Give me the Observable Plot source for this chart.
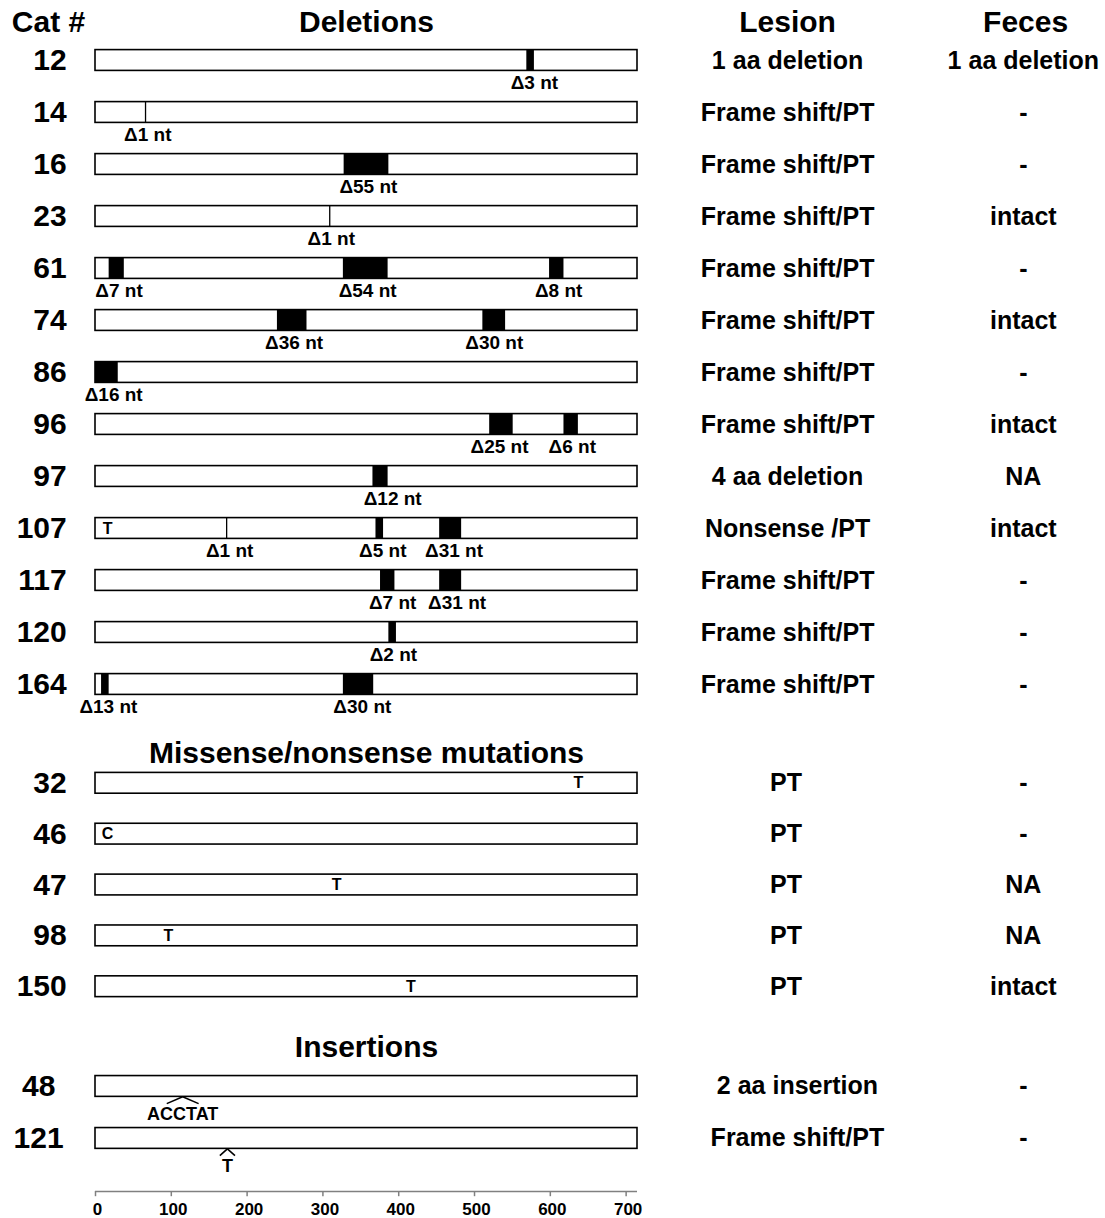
<!DOCTYPE html>
<html><head><meta charset="utf-8">
<script src="https://cdn.jsdelivr.net/npm/d3@7"></script>
<script src="https://cdn.jsdelivr.net/npm/@observablehq/plot@0.6"></script>
<style>body{margin:0;background:#fff}#chart svg{display:block}</style>
</head><body><div id="chart"></div>
<script>
// ---------- data ----------
const GENE_LENGTH = 715;
const axisTicks = [0, 100, 200, 300, 400, 500, 600, 700];
const headers = ["Cat #", "Deletions", "Lesion", "Feces"];
const sectionTitles = ["Missense/nonsense mutations", "Insertions"];

const deletionCats   = ["12","14","16","23","61","74","86","96","97","107","117","120","164"];
const deletionLesion = ["1 aa deletion","Frame shift/PT","Frame shift/PT","Frame shift/PT","Frame shift/PT","Frame shift/PT","Frame shift/PT","Frame shift/PT","4 aa deletion","Nonsense /PT","Frame shift/PT","Frame shift/PT","Frame shift/PT"];
const deletionFeces  = ["1 aa deletion","-","-","intact","-","intact","-","intact","NA","intact","-","-","-"];

const missenseCats   = ["32","46","47","98","150"];
const missenseLesion = ["PT","PT","PT","PT","PT"];
const missenseFeces  = ["-","-","NA","NA","intact"];

const insertionCats   = ["48","121"];
const insertionLesion = ["2 aa insertion","Frame shift/PT"];
const insertionFeces  = ["-","-"];

// deleted stretches: start/end position along the gene, label and where it sits
const deletions = [
  {cat:"12",  start:569, end:579, label:"Δ3 nt",  labelAt:579},
  {cat:"14",  start:66,  end:66,  label:"Δ1 nt",  labelAt:69},
  {cat:"16",  start:328, end:387, label:"Δ55 nt", labelAt:360},
  {cat:"23",  start:309, end:309, label:"Δ1 nt",  labelAt:311},
  {cat:"61",  start:18,  end:38,  label:"Δ7 nt",  labelAt:31},
  {cat:"61",  start:327, end:386, label:"Δ54 nt", labelAt:359},
  {cat:"61",  start:599, end:618, label:"Δ8 nt",  labelAt:611},
  {cat:"74",  start:240, end:279, label:"Δ36 nt", labelAt:262},
  {cat:"74",  start:511, end:541, label:"Δ30 nt", labelAt:526},
  {cat:"86",  start:0,   end:30,  label:"Δ16 nt", labelAt:24},
  {cat:"96",  start:520, end:551, label:"Δ25 nt", labelAt:533},
  {cat:"96",  start:618, end:637, label:"Δ6 nt",  labelAt:629},
  {cat:"97",  start:366, end:386, label:"Δ12 nt", labelAt:392},
  {cat:"107", start:173, end:173, label:"Δ1 nt",  labelAt:177},
  {cat:"107", start:370, end:380, label:"Δ5 nt",  labelAt:379},
  {cat:"107", start:454, end:483, label:"Δ31 nt", labelAt:473},
  {cat:"117", start:376, end:395, label:"Δ7 nt",  labelAt:392},
  {cat:"117", start:454, end:483, label:"Δ31 nt", labelAt:477},
  {cat:"120", start:387, end:397, label:"Δ2 nt",  labelAt:393},
  {cat:"164", start:8,   end:18,  label:"Δ13 nt", labelAt:17},
  {cat:"164", start:327, end:367, label:"Δ30 nt", labelAt:352}
];

// point substitutions (base shown inside the bar)
const substitutions = [
  {cat:"107", pos:16,  base:"T"},
  {cat:"32",  pos:637, base:"T"},
  {cat:"46",  pos:16,  base:"C"},
  {cat:"47",  pos:318, base:"T"},
  {cat:"98",  pos:96,  base:"T"},
  {cat:"150", pos:416, base:"T"}
];

// insertions (caret under the bar, inserted bases below)
const insertions = [
  {cat:"48",  pos:115, seq:"ACCTAT", spread:21},
  {cat:"121", pos:174, seq:"T",      spread:10}
];

// ---------- layout (row slots; 1 slot = one row spacing) ----------
const HEADER_SLOT = 0.27;
const sections = [
  {cats:deletionCats,  lesion:deletionLesion,  feces:deletionFeces,  first:1.0,   step:1.0,   title:null,             catX:-38, catAnchor:"end",    lesionX:913},
  {cats:missenseCats,  lesion:missenseLesion,  feces:missenseFeces,  first:14.90, step:0.978, title:sectionTitles[0], titleSlot:14.33, catX:-38, catAnchor:"end", lesionX:911},
  {cats:insertionCats, lesion:insertionLesion, feces:insertionFeces, first:20.73, step:1.0,   title:sectionTitles[1], titleSlot:19.98, catX:-75, catAnchor:"middle", lesionX:926}
];
const AXIS_SLOT = 22.75;
const BAR_HALF = 0.2;
const LABEL_OFFSET = 0.43;
const FECES_X = 1224;
const headerX = [-62, GENE_LENGTH / 2, 913, 1227];

const rows = sections.flatMap(s => s.cats.map((cat, i) => ({
  cat, lesion: s.lesion[i], feces: s.feces[i], slot: s.first + i * s.step,
  catX: s.catX, catAnchor: s.catAnchor, lesionX: s.lesionX
})));
const slotOf = new Map(rows.map(r => [r.cat, r.slot]));
const titles = sections.filter(s => s.title).map(s => ({text: s.title, slot: s.titleSlot}));

const FONT = "Liberation Sans, Arial, Helvetica, sans-serif";

const chart = Plot.plot({
  width: 1105,
  height: 1218,
  margin: 0,
  style: {fontFamily: FONT, fontWeight: "bold", background: "#fff", color: "#000"},
  x: {domain: [0, GENE_LENGTH], range: [95, 637], axis: null},
  y: {domain: [0, 23], range: [8, 8 + 23 * 52], axis: null},
  marks: [
    // gene bars
    Plot.rect(rows, {x1: () => 0, x2: () => GENE_LENGTH, y1: d => d.slot - BAR_HALF, y2: d => d.slot + BAR_HALF,
      fill: "white", stroke: "black", strokeWidth: 1.6}),
    // deleted stretches
    Plot.rect(deletions.filter(d => d.end > d.start), {x1: "start", x2: "end",
      y1: d => slotOf.get(d.cat) - BAR_HALF, y2: d => slotOf.get(d.cat) + BAR_HALF, fill: "black"}),
    Plot.ruleX(deletions.filter(d => d.end === d.start), {x: "start",
      y1: d => slotOf.get(d.cat) - BAR_HALF, y2: d => slotOf.get(d.cat) + BAR_HALF, stroke: "black", strokeWidth: 1.3}),
    Plot.text(deletions, {x: "labelAt", y: d => slotOf.get(d.cat) + LABEL_OFFSET, text: "label", fontSize: 19}),
    // substitutions
    Plot.text(substitutions, {x: "pos", y: d => slotOf.get(d.cat), text: "base", fontSize: 16}),
    // insertions
    Plot.link(insertions, {x1: d => d.pos - d.spread, x2: "pos",
      y1: d => slotOf.get(d.cat) + BAR_HALF + 0.13, y2: d => slotOf.get(d.cat) + BAR_HALF, stroke: "black", strokeWidth: 1.6}),
    Plot.link(insertions, {x1: d => d.pos + d.spread, x2: "pos",
      y1: d => slotOf.get(d.cat) + BAR_HALF + 0.13, y2: d => slotOf.get(d.cat) + BAR_HALF, stroke: "black", strokeWidth: 1.6}),
    Plot.text(insertions, {x: "pos", y: d => slotOf.get(d.cat) + 0.53, text: "seq", fontSize: 18}),
    // table columns
    Plot.text(rows.filter(r => r.catAnchor === "end"), {x: "catX", y: "slot", text: "cat", textAnchor: "end", fontSize: 30}),
    Plot.text(rows.filter(r => r.catAnchor === "middle"), {x: "catX", y: "slot", text: "cat", textAnchor: "middle", fontSize: 30}),
    Plot.text(rows, {x: "lesionX", y: "slot", text: "lesion", fontSize: 25}),
    Plot.text(rows, {x: () => FECES_X, y: "slot", text: "feces", fontSize: 25}),
    // headers and section titles
    Plot.text(headers, {x: (d, i) => headerX[i], y: () => HEADER_SLOT, text: d => d, fontSize: 30}),
    Plot.text(titles, {x: () => GENE_LENGTH / 2, y: "slot", text: "text", fontSize: 30}),
    // position axis
    Plot.ruleY([AXIS_SLOT], {y: d => d, x1: () => 0, x2: () => GENE_LENGTH, stroke: "#808080", strokeWidth: 1.5}),
    Plot.ruleX(axisTicks, {x: d => d, y1: () => AXIS_SLOT, y2: () => AXIS_SLOT + 0.1, stroke: "#808080", strokeWidth: 1.5}),
    Plot.text(axisTicks, {x: d => d, y: () => AXIS_SLOT + 0.34, text: d => String(d), fontSize: 17, dx: 2})
  ]
});
document.getElementById("chart").append(chart);
</script>
</body></html>
